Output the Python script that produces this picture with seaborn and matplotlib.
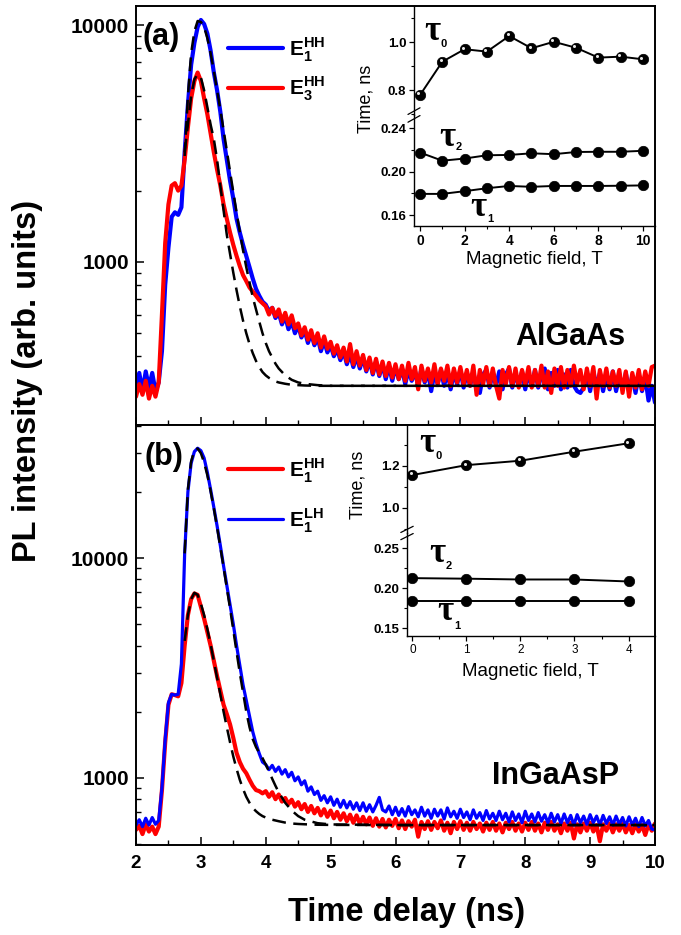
import numpy as np
import pandas as pd
import matplotlib
matplotlib.use("Agg")
import matplotlib.pyplot as plt
import matplotlib.ticker as mticker
from matplotlib.lines import Line2D
from matplotlib.transforms import offset_copy
import seaborn as sns

# ---------------- data ----------------
time_ns = [
    2.00, 2.05, 2.10, 2.15, 2.20, 2.25, 2.30, 2.35, 2.40, 2.45,
    2.50, 2.55, 2.60, 2.65, 2.70, 2.75, 2.80, 2.85, 2.90, 2.95,
    3.00, 3.05, 3.10, 3.15, 3.20, 3.25, 3.30, 3.35, 3.40, 3.45,
    3.50, 3.55, 3.60, 3.65, 3.70, 3.75, 3.80, 3.85, 3.90, 3.95,
    4.00, 4.05, 4.10, 4.15, 4.20, 4.25, 4.30, 4.35, 4.40, 4.45,
    4.50, 4.55, 4.60, 4.65, 4.70, 4.75, 4.80, 4.85, 4.90, 4.95,
    5.00, 5.05, 5.10, 5.15, 5.20, 5.25, 5.30, 5.35, 5.40, 5.45,
    5.50, 5.55, 5.60, 5.65, 5.70, 5.75, 5.80, 5.85, 5.90, 5.95,
    6.00, 6.05, 6.10, 6.15, 6.20, 6.25, 6.30, 6.35, 6.40, 6.45,
    6.50, 6.55, 6.60, 6.65, 6.70, 6.75, 6.80, 6.85, 6.90, 6.95,
    7.00, 7.05, 7.10, 7.15, 7.20, 7.25, 7.30, 7.35, 7.40, 7.45,
    7.50, 7.55, 7.60, 7.65, 7.70, 7.75, 7.80, 7.85, 7.90, 7.95,
    8.00, 8.05, 8.10, 8.15, 8.20, 8.25, 8.30, 8.35, 8.40, 8.45,
    8.50, 8.55, 8.60, 8.65, 8.70, 8.75, 8.80, 8.85, 8.90, 8.95,
    9.00, 9.05, 9.10, 9.15, 9.20, 9.25, 9.30, 9.35, 9.40, 9.45,
    9.50, 9.55, 9.60, 9.65, 9.70, 9.75, 9.80, 9.85, 9.90, 9.95,
    10.00,
]

# (a) AlGaAs, E1HH (blue)
algaas_e1hh = [
    300, 340, 285, 345, 295, 340, 285, 310, 420, 800,
    1150, 1550, 1620, 1580, 1700, 2900, 4600, 6800, 8400, 9800,
    10500, 10100, 9200, 7800, 6300, 5300, 4300, 3300, 2700, 2200,
    1850, 1520, 1330, 1180, 1060, 950, 850, 770, 720, 680,
    660, 620, 640, 580, 610, 545, 590, 520, 560, 500,
    540, 480, 515, 455, 500, 445, 480, 420, 465, 415,
    445, 400, 430, 385, 420, 370, 410, 360, 400, 355,
    395, 345, 385, 335, 380, 330, 370, 320, 365, 315,
    360, 320, 355, 305, 350, 315, 345, 300, 355, 310,
    345, 285, 340, 305, 350, 300, 345, 290, 340, 305,
    350, 295, 340, 300, 345, 290, 280, 335, 350, 295,
    340, 300, 345, 290, 335, 355, 295, 340, 300, 345,
    290, 340, 300, 350, 295, 335, 355, 290, 340, 300,
    350, 290, 335, 295, 350, 300, 285, 280, 295, 340,
    285, 345, 295, 340, 285, 335, 290, 345, 285, 330,
    290, 340, 285, 330, 280, 335, 285, 325, 260, 300,
    255,
]
# (a) AlGaAs, E3HH (red)
algaas_e3hh = [
    270, 305, 275, 315, 265, 300, 270, 310, 600, 1200,
    1750, 2100, 2150, 2000, 2100, 2700, 3700, 4900, 5800, 6300,
    5800, 4900, 4200, 3500, 2900, 2450, 2100, 1750, 1520, 1330,
    1180, 1060, 960, 880, 830, 780, 750, 720, 690, 670,
    650, 600, 640, 590, 630, 560, 610, 545, 595, 525,
    550, 490, 530, 470, 515, 455, 500, 435, 485, 430,
    460, 410, 445, 395, 435, 380, 450, 370, 420, 365,
    405, 350, 395, 340, 390, 335, 380, 330, 375, 325,
    370, 320, 365, 315, 375, 320, 360, 290, 365, 315,
    355, 310, 370, 305, 355, 315, 365, 300, 355, 310,
    360, 305, 350, 300, 365, 275, 350, 305, 360, 300,
    355, 300, 265, 350, 305, 360, 300, 355, 295, 350,
    305, 360, 295, 350, 300, 365, 295, 345, 280, 355,
    300, 360, 295, 350, 300, 365, 305, 350, 290, 355,
    300, 360, 265, 350, 300, 355, 295, 345, 300, 350,
    280, 345, 270, 340, 295, 350, 290, 345, 300, 360,
    365,
]
# (b) InGaAsP, E1HH (red)
ingaasp_e1hh = [
    580, 605, 555, 615, 570, 600, 555, 600, 880, 1450,
    2150, 2400, 2380, 2350, 2700, 4000, 5500, 6500, 6900, 6800,
    6000, 5300, 4600, 4000, 3400, 2900, 2500, 2150, 1950, 1750,
    1520, 1300, 1180, 1100, 1050, 980, 920, 880, 870, 850,
    870, 820, 860, 800, 840, 780, 810, 760, 795, 740,
    775, 720, 760, 700, 745, 690, 730, 675, 720, 665,
    710, 655, 700, 645, 690, 635, 680, 625, 675, 620,
    665, 615, 660, 605, 655, 600, 650, 595, 645, 605,
    650, 590, 640, 585, 635, 600, 645, 540, 630, 585,
    635, 580, 630, 590, 640, 575, 625, 560, 630, 585,
    635, 580, 625, 575, 630, 585, 620, 570, 625, 580,
    630, 575, 620, 565, 625, 585, 630, 575, 620, 570,
    625, 580, 630, 575, 620, 565, 625, 580, 630, 575,
    615, 560, 620, 575, 625, 530, 615, 565, 620, 575,
    625, 570, 610, 515, 615, 575, 620, 565, 615, 575,
    620, 565, 610, 560, 615, 570, 610, 550, 615, 575,
    620,
]
# (b) InGaAsP, E1LH (blue)
ingaasp_e1lh = [
    610, 645, 600, 655, 610, 660, 615, 640, 900, 1500,
    2200, 2400, 2380, 2400, 3300, 10500, 20000, 27000, 30500, 31600,
    30800, 28500, 24500, 20500, 17000, 14000, 11400, 9200, 7500, 6100,
    5000, 4000, 3250, 2650, 2250, 1900, 1620, 1430, 1290, 1180,
    1150, 1090, 1140, 1070, 1120, 1040, 1090, 1010, 1060, 970,
    1010, 930, 970, 870, 910, 840, 870, 790, 830, 770,
    820, 750, 800, 735, 790, 730, 780, 720, 770, 710,
    770, 705, 755, 700, 750, 815, 715, 700, 745, 680,
    735, 675, 725, 670, 740, 680, 715, 665, 735, 670,
    715, 655, 720, 670, 715, 650, 730, 665, 705, 655,
    720, 660, 700, 645, 715, 655, 695, 640, 710, 650,
    690, 640, 705, 645, 690, 630, 700, 640, 685, 625,
    705, 640, 685, 630, 695, 635, 680, 625, 690, 630,
    680, 620, 685, 625, 675, 610, 680, 625, 670, 615,
    680, 625, 670, 610, 675, 620, 665, 610, 670, 615,
    660, 605, 665, 610, 655, 600, 660, 605, 640, 585,
    580,
]

# fitted curves (dashed)
fit_time = [2.75, 2.80, 2.85, 2.90, 2.95, 3.00, 3.05, 3.10, 3.15, 3.20,
            3.25, 3.30, 3.35, 3.40, 3.45, 3.50, 3.55, 3.60, 3.65, 3.70,
            3.75, 3.80, 3.85, 3.90, 3.95, 4.00, 4.05, 4.10, 4.15, 4.20,
            4.30, 4.40, 4.50, 4.60, 4.80, 5.00, 6.00, 7.00, 8.00, 9.00, 10.00]
fit_a_e1 = [2800, 5000, 7600, 9400, 10400, 10300, 9800, 8800, 7600, 6400,
            5300, 4400, 3600, 2950, 2400, 1970, 1620, 1340, 1120, 950,
            820, 710, 630, 560, 500, 455, 420, 395, 372, 355,
            332, 318, 310, 306, 302, 300, 300, 300, 300, 300, 300]
fit_a_e3 = [2900, 3800, 5000, 5900, 6200, 6000, 5300, 4500, 3800, 3300,
            2700, 2100, 1650, 1300, 1080, 900, 760, 650, 565, 500,
            450, 412, 382, 360, 343, 332, 324, 318, 313, 310,
            306, 303, 302, 301, 300, 300, 300, 300, 300, 300, 300]
fit_b_hh = [4200, 5500, 6500, 6950, 6800, 6200, 5500, 4750, 4050, 3400,
            2850, 2400, 2000, 1700, 1450, 1250, 1100, 980, 890, 820,
            770, 730, 705, 685, 670, 660, 652, 645, 640, 635,
            626, 620, 617, 615, 612, 611, 610, 610, 610, 610, 610]
fit_b_lh = [10500, 20500, 27500, 31000, 31500, 30000, 27200, 23800, 20200, 16800,
            13800, 11200, 9100, 7300, 5900, 4700, 3750, 3000, 2450, 2000,
            1700, 1500, 1380, 1300, 1230, 1150, 1070, 990, 920, 860,
            770, 710, 670, 645, 622, 614, 610, 610, 610, 610, 610]

# insets
field_a = [0, 1, 2, 3, 4, 5, 6, 7, 8, 9, 10]
tau0_a = [0.779, 0.918, 0.970, 0.960, 1.025, 0.974, 1.001, 0.976, 0.935, 0.939, 0.928]
tau2_a = [0.2175, 0.2100, 0.2120, 0.2150, 0.2153, 0.2168, 0.2160, 0.2180, 0.2182, 0.2182, 0.2191]
tau1_a = [0.1795, 0.1795, 0.1820, 0.1847, 0.1868, 0.1860, 0.1868, 0.1868, 0.1868, 0.1870, 0.1873]
field_b = [0, 1, 2, 3, 4]
tau0_b = [1.156, 1.203, 1.224, 1.267, 1.307]
tau2_b = [0.2127, 0.2120, 0.2110, 0.2110, 0.2085]
tau1_b = [0.1844, 0.1844, 0.1844, 0.1844, 0.1844]

# ---------------- style ----------------
sns.set_theme(style="ticks")
plt.rcParams["font.family"] = ["Liberation Sans", "DejaVu Sans"]
plt.rcParams["mathtext.fontset"] = "custom"
plt.rcParams["mathtext.bf"] = "Liberation Sans:bold"
plt.rcParams["mathtext.rm"] = "Liberation Sans:bold"
plt.rcParams["axes.edgecolor"] = "black"
plt.rcParams["axes.linewidth"] = 1.3
plt.rcParams["text.color"] = "black"
plt.rcParams["axes.labelcolor"] = "black"
plt.rcParams["xtick.color"] = "black"
plt.rcParams["ytick.color"] = "black"
plt.rcParams["xtick.labelcolor"] = "black"
plt.rcParams["ytick.labelcolor"] = "black"

BLUE = "#0000FF"
RED = "#FF0000"
W, H = 681, 935

fig = plt.figure(figsize=(6.81, 9.35), dpi=100)
fig.patch.set_facecolor("white")


def px_rect(x0, y0, x1, y1):
    return [x0 / W, 1 - y1 / H, (x1 - x0) / W, (y1 - y0) / H]


ax_a = fig.add_axes(px_rect(136, 6, 655, 425))
ax_b = fig.add_axes(px_rect(136, 425, 655, 845))

df_a = pd.DataFrame({"t": time_ns, "e1": algaas_e1hh, "e3": algaas_e3hh})
df_b = pd.DataFrame({"t": time_ns, "hh": ingaasp_e1hh, "lh": ingaasp_e1lh})
df_fit = pd.DataFrame({"t": fit_time, "a1": fit_a_e1, "a3": fit_a_e3,
                       "bh": fit_b_hh, "bl": fit_b_lh})

for ax in (ax_a, ax_b):
    ax.set_yscale("log")

dash = (0, (5.5, 3.0))
sns.lineplot(data=df_a, x="t", y="e1", ax=ax_a, color=BLUE, lw=3.0,
             estimator=None, sort=False, legend=False)
sns.lineplot(data=df_a, x="t", y="e3", ax=ax_a, color=RED, lw=3.0,
             estimator=None, sort=False, legend=False)
sns.lineplot(data=df_fit, x="t", y="a1", ax=ax_a, color="black", lw=1.8,
             linestyle=dash, estimator=None, sort=False, legend=False)
sns.lineplot(data=df_fit, x="t", y="a3", ax=ax_a, color="black", lw=1.8,
             linestyle=dash, estimator=None, sort=False, legend=False)

sns.lineplot(data=df_b, x="t", y="hh", ax=ax_b, color=RED, lw=3.0,
             estimator=None, sort=False, legend=False)
sns.lineplot(data=df_b, x="t", y="lh", ax=ax_b, color=BLUE, lw=2.3,
             estimator=None, sort=False, legend=False)
sns.lineplot(data=df_fit, x="t", y="bh", ax=ax_b, color="black", lw=1.8,
             linestyle=dash, estimator=None, sort=False, legend=False)
sns.lineplot(data=df_fit, x="t", y="bl", ax=ax_b, color="black", lw=1.8,
             linestyle=dash, estimator=None, sort=False, legend=False)

ax_a.set_ylim(205, 12030)
ax_b.set_ylim(495, 40300)
for ax in (ax_a, ax_b):
    ax.set_xlim(2, 10)
    ax.set_xlabel("")
    ax.set_ylabel("")
    ax.xaxis.set_major_locator(mticker.MultipleLocator(1))
    ax.xaxis.set_minor_locator(mticker.MultipleLocator(0.5))
    ax.yaxis.set_major_locator(mticker.FixedLocator([1000, 10000]))
    ax.yaxis.set_minor_locator(mticker.LogLocator(base=10, subs=np.arange(2, 10)))
    ax.yaxis.set_major_formatter(mticker.FixedFormatter(["1000", "10000"]))
    ax.yaxis.set_minor_formatter(mticker.NullFormatter())
    ax.tick_params(axis="both", which="major", direction="in", length=6, width=1.1,
                   top=False, right=False, colors="black")
    ax.tick_params(axis="both", which="minor", direction="in", length=3.5, width=1.0,
                   top=False, right=False, colors="black")
    ax.tick_params(axis="y", which="major", labelsize=15, pad=5)
    ax.tick_params(axis="x", which="major", labelsize=13.5, pad=7)
    for lab in ax.get_xticklabels() + ax.get_yticklabels():
        lab.set_fontweight("bold")
    for sp in ax.spines.values():
        sp.set_linewidth(1.4)
        sp.set_color("black")
ax_a.tick_params(axis="x", labelbottom=False)

# legends
h_a = [Line2D([], [], color=BLUE, lw=3.0), Line2D([], [], color=RED, lw=3.0)]
ax_a.legend(h_a, [r"$\mathbf{E}_{\mathbf{1}}^{\mathbf{HH}}$", r"$\mathbf{E}_{\mathbf{3}}^{\mathbf{HH}}$"],
            loc="upper left", bbox_to_anchor=(0.177, 0.931), frameon=False, fontsize=15,
            handlelength=2.65, handletextpad=0.3, labelspacing=0.54, borderpad=0,
            borderaxespad=0, labelcolor="black")
h_b = [Line2D([], [], color=RED, lw=3.0), Line2D([], [], color=BLUE, lw=2.3)]
ax_b.legend(h_b, [r"$\mathbf{E}_{\mathbf{1}}^{\mathbf{HH}}$", r"$\mathbf{E}_{\mathbf{1}}^{\mathbf{LH}}$"],
            loc="upper left", bbox_to_anchor=(0.177, 0.926), frameon=False, fontsize=15,
            handlelength=2.65, handletextpad=0.3, labelspacing=1.04, borderpad=0,
            borderaxespad=0, labelcolor="black")


# ---------------- insets ----------------
def inset(x0, x1, y_top, y_mid, y_bot, xlim, ylim_up, ylim_lo, up_major, up_minor,
          lo_major, lo_minor, up_fmt, lo_fmt, xmaj, xmin, fields, t0, t1, t2,
          xlab_bold, xlab_size):
    ax_u = fig.add_axes(px_rect(x0, y_top, x1, y_mid))
    ax_l = fig.add_axes(px_rect(x0, y_mid, x1, y_bot))
    for a in (ax_u, ax_l):
        a.set_facecolor("none")
        a.spines["top"].set_visible(False)
        a.spines["right"].set_visible(False)
        a.spines["left"].set_linewidth(1.0)
        a.spines["bottom"].set_linewidth(1.0)
        a.set_xlim(*xlim)
    ax_u.spines["bottom"].set_visible(False)
    ax_u.tick_params(axis="x", bottom=False, labelbottom=False)
    ax_u.set_ylim(*ylim_up)
    ax_l.set_ylim(*ylim_lo)
    ax_u.yaxis.set_major_locator(mticker.MultipleLocator(up_major))
    ax_u.yaxis.set_minor_locator(mticker.MultipleLocator(up_minor))
    ax_l.yaxis.set_major_locator(mticker.MultipleLocator(lo_major))
    ax_l.yaxis.set_minor_locator(mticker.MultipleLocator(lo_minor))
    ax_u.yaxis.set_major_formatter(mticker.FormatStrFormatter(up_fmt))
    ax_l.yaxis.set_major_formatter(mticker.FormatStrFormatter(lo_fmt))
    ax_l.xaxis.set_major_locator(mticker.MultipleLocator(xmaj))
    ax_l.xaxis.set_minor_locator(mticker.MultipleLocator(xmin))
    for a in (ax_u, ax_l):
        a.tick_params(axis="both", which="major", direction="out", length=3.5, width=0.9,
                      labelsize=9.5, pad=2, colors="black")
        a.tick_params(axis="both", which="minor", direction="out", length=2, width=0.8,
                      colors="black")
        for lab in a.get_yticklabels():
            lab.set_fontweight("bold")
    ax_l.tick_params(axis="x", labelsize=xlab_size, pad=2)
    for lab in ax_l.get_xticklabels():
        lab.set_fontweight("bold" if xlab_bold else "normal")

    kw = dict(color="black", lw=1.4, marker="o", markersize=7.5, markeredgecolor="black",
              markeredgewidth=0.5, estimator=None, sort=False, legend=False)
    sns.lineplot(x=fields, y=t0, ax=ax_u, **kw)
    sns.lineplot(x=fields, y=t2, ax=ax_l, **kw)
    sns.lineplot(x=fields, y=t1, ax=ax_l, **kw)
    # specular highlight of the tau0 spheres
    hl = offset_copy(ax_u.transData, fig=fig, x=-1.6, y=1.6, units="dots")
    ax_u.plot(fields, t0, "o", ms=2.2, color="#e8e8e8", mec="none", transform=hl, zorder=6)
    ax_u.set_xlabel("")
    ax_u.set_ylabel("")
    ax_l.set_xlabel("")
    ax_l.set_ylabel("")
    # axis-break marks
    for dy in (-0.035, 0.035):
        ax_l.plot([-0.025, 0.025], [1.0 + dy - 0.03, 1.0 + dy + 0.03], transform=ax_l.transAxes,
                  color="black", lw=0.9, clip_on=False)
    return ax_u, ax_l


inset(414, 655, 6, 115, 226, (-0.27, 10.54), (0.696, 1.15), (0.150, 0.252),
      0.2, 0.1, 0.04, 0.02, "%.1f", "%.2f", 2, 1,
      field_a, tau0_a, tau1_a, tau2_a, True, 10)
inset(407, 655, 425, 533, 636, (-0.1, 4.49), (0.88, 1.394), (0.14, 0.2694),
      0.2, 0.1, 0.05, 0.025, "%.1f", "%.2f", 1, 0.5,
      field_b, tau0_b, tau1_b, tau2_b, False, 8.5)


def ftext(x, y, s, **kw):
    fig.text(x / W, 1 - y / H, s, color="black", **kw)


# inset axis titles
ftext(534, 260, "Magnetic field, T", ha="center", va="center", fontsize=13.5)
ftext(530, 672, "Magnetic field, T", ha="center", va="center", fontsize=13.5)
ftext(366, 99, "Time, ns", ha="center", va="center", fontsize=13, rotation=90)
ftext(358, 485, "Time, ns", ha="center", va="center", fontsize=13, rotation=90)

# tau labels
tau_font = dict(family=["Liberation Serif", "DejaVu Serif"], fontweight="bold", fontsize=25,
                ha="center", va="center")
sub_font = dict(fontweight="bold", fontsize=8, ha="center", va="center")
for (x, y, sx, sy, sub) in [(432, 32, 444, 44, "0"), (447, 137, 459, 147, "2"),
                             (478, 207, 490, 219, "1"), (427, 443, 439, 456, "0"),
                             (437, 554, 449, 566, "2"), (445, 612, 457, 626, "1")]:
    ftext(x, y, "\u03c4", **tau_font)
    ftext(sx, sy, sub, **sub_font)

# panel labels and sample names
ftext(142, 37, "(a)", ha="left", va="center", fontsize=22, fontweight="bold")
ftext(144, 457, "(b)", ha="left", va="center", fontsize=22, fontweight="bold")
ftext(570, 345, "AlGaAs", ha="center", va="baseline", fontsize=22, fontweight="bold")
ftext(556, 784, "InGaAsP", ha="center", va="baseline", fontsize=22, fontweight="bold")

# axis labels
ftext(28, 381, "PL intensity (arb. units)", ha="center", va="center", rotation=90,
      fontsize=23.5, fontweight="bold")
ftext(407, 921, "Time delay (ns)", ha="center", va="baseline", fontsize=23.5,
      fontweight="bold")

fig.savefig("out.png", dpi=100, facecolor="white")
